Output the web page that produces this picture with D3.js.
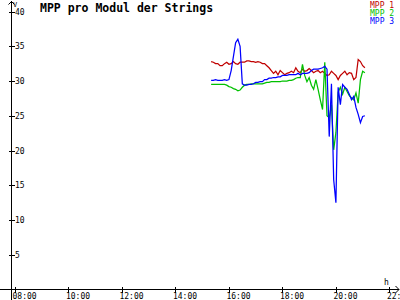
<!DOCTYPE html>
<html>
<head>
<meta charset="utf-8">
<script src="https://cdn.jsdelivr.net/npm/d3@7"></script>
<style>
  html, body { margin: 0; padding: 0; background: #fff; }
  svg { display: block; }
  text { font-family: "DejaVu Sans Mono", monospace; }
</style>
</head>
<body>
<svg id="chart" width="400" height="300"></svg>
<script>
// ---- data ----
const title = "MPP pro Modul der Strings";
const seriesNames = ["MPP 1", "MPP 2", "MPP 3"];
const seriesColors = ["#c00000", "#00c000", "#0000ff"];
const xTickLabels = ["08:00", "10:00", "12:00", "14:00", "16:00", "18:00", "20:00", "22:00"];
const yTickValues = [5, 10, 15, 20, 25, 30, 35, 40];
const times = [
  "15:20","15:25","15:30","15:35","15:40","15:45","15:50","15:55",
  "16:00","16:05","16:10","16:15","16:20","16:25","16:30","16:35","16:40","16:45","16:50","16:55",
  "17:00","17:05","17:10","17:15","17:20","17:25","17:30","17:35","17:40","17:45","17:50","17:55",
  "18:00","18:05","18:10","18:15","18:20","18:25","18:30","18:35","18:40","18:45","18:50","18:55",
  "19:00","19:05","19:10","19:15","19:20","19:25","19:30","19:35","19:40","19:45","19:50","19:55",
  "20:00","20:05","20:10","20:15","20:20","20:25","20:30","20:35","20:40","20:45","20:50","20:55",
  "21:00","21:05"
];
const mpp1 = [
  32.8,32.7,32.5,32.5,32.2,32.2,32.5,32.7,32.4,32.5,
  32.8,32.5,32.4,32.7,32.7,32.7,32.9,32.9,32.8,32.8,
  32.7,32.8,32.7,32.5,32.5,32.2,31.9,31.5,31.1,31.4,
  30.9,31.5,31.2,30.9,31.1,31.2,31.4,31.2,31.9,31.4,
  31.2,31.7,31.4,31.5,31.8,31.5,31.2,31.4,31.5,31.2,
  31.4,31.1,30.8,30.9,31.4,31.1,30.8,30.2,30.8,31.1,
  31.4,30.9,31.2,31.1,30.2,30.5,33.1,32.8,32.2,31.9
];
const mpp2 = [
  29.5,29.5,29.5,29.5,29.5,29.5,29.5,29.4,29.2,29.1,
  28.9,28.8,28.6,28.7,29.1,29.4,29.5,29.5,29.6,29.6,
  29.6,29.6,29.6,29.6,29.7,29.8,29.8,29.9,29.9,29.9,
  29.9,29.9,30.0,30.0,30.0,30.1,30.1,30.2,30.4,30.5,
  30.5,32.4,30.8,29.9,30.5,29.4,28.8,30.2,28.8,27.3,
  25.9,32.7,25.0,24.7,26.6,20.1,22.6,28.4,29.1,28.1,
  29.1,28.5,27.9,27.6,27.3,28.3,26.8,30.2,31.4,31.2
];
const mpp3 = [
  30.1,30.1,30.2,30.1,30.1,30.1,30.2,30.1,30.2,31.5,
  33.5,35.5,36.0,35.0,29.6,29.4,29.4,29.5,29.5,29.6,
  29.8,29.8,29.9,29.9,30.2,30.2,30.4,30.4,30.5,30.5,
  30.6,30.6,30.8,30.8,30.8,30.9,30.9,30.9,30.9,31.1,
  30.9,31.1,31.1,31.1,31.2,31.5,31.7,31.7,31.7,31.8,
  31.9,32.1,31.7,22.0,29.6,15.8,12.5,29.1,26.6,29.5,
  29.1,28.8,28.1,27.3,27.8,26.2,25.2,24.0,24.9,25.0
];
const series = [mpp1, mpp2, mpp3];

// ---- helpers ----
const toHours = s => { const [h, m] = s.split(":").map(Number); return h + m / 60; };

const svg = d3.select("#chart");
const x = d3.scaleLinear().domain([8, 22]).range([15, 389.4]);
const y = d3.scaleLinear().domain([0, 40]).range([289.5, 11.5]);
const axisX = 11.5, axisY = 289.5;

// data lines
const line = d3.line()
  .x((d, i) => x(toHours(times[i])))
  .y(d => y(d));
series.forEach((s, i) => {
  svg.append("path")
    .datum(s)
    .attr("fill", "none")
    .attr("stroke", seriesColors[i])
    .attr("stroke-width", 1.25)
    .attr("stroke-linejoin", "miter")
    .attr("d", line);
});

// y axis
const yAxis = svg.append("g")
  .attr("transform", `translate(${axisX},0)`)
  .call(d3.axisLeft(y).tickValues(yTickValues).tickSize(0).tickFormat(d3.format("d")));
yAxis.select(".domain").remove();
yAxis.selectAll(".tick line").attr("x1", -3).attr("x2", 3).attr("stroke", "#000")
  .attr("shape-rendering", "crispEdges");
yAxis.selectAll(".tick text")
  .attr("x", 3.5).attr("dy", "0.32em").attr("text-anchor", "start")
  .attr("font-size", 8).attr("fill", "#000")
  .style("font-family", "'DejaVu Sans Mono', monospace");

// x axis
const xAxis = svg.append("g")
  .attr("transform", `translate(0,${axisY})`)
  .call(d3.axisBottom(x).tickValues(d3.range(xTickLabels.length).map(i => 8 + 2 * i))
    .tickSize(0).tickFormat((d, i) => xTickLabels[i]));
xAxis.select(".domain").remove();
xAxis.selectAll(".tick line").attr("y1", -3).attr("y2", 3).attr("stroke", "#000")
  .attr("shape-rendering", "crispEdges");
xAxis.selectAll(".tick text")
  .attr("x", -3).attr("y", 9).attr("dy", null).attr("text-anchor", "start")
  .attr("font-size", 8).attr("fill", "#000")
  .style("font-family", "'DejaVu Sans Mono', monospace");

// axis lines and arrows
svg.append("line").attr("x1", axisX).attr("x2", axisX).attr("y1", 1).attr("y2", 300)
  .attr("stroke", "#000").attr("shape-rendering", "crispEdges");
svg.append("line").attr("x1", 0).attr("x2", 399).attr("y1", axisY).attr("y2", axisY)
  .attr("stroke", "#000").attr("shape-rendering", "crispEdges");
svg.append("path").attr("d", `M${axisX - 3},4.5 L${axisX},1.5 L${axisX + 3},4.5`)
  .attr("fill", "none").attr("stroke", "#000");
svg.append("path").attr("d", `M395.5,${axisY - 3.5} L399,${axisY} L395.5,${axisY + 3.5}`)
  .attr("fill", "none").attr("stroke", "#000");

// unit labels
svg.append("text").attr("x", 13).attr("y", 7).attr("font-size", 7).text("V");
svg.append("text").attr("x", 384).attr("y", 285).attr("font-size", 8).text("h");

// title
svg.append("text").attr("x", 40).attr("y", 11.5)
  .attr("font-size", 11.5).attr("font-weight", "bold").attr("fill", "#000").text(title);

// legend
seriesNames.forEach((n, i) => {
  svg.append("text").attr("x", 370).attr("y", 7.5 + 8 * i)
    .attr("font-size", 8).attr("fill", seriesColors[i]).text(n);
});
</script>
</body>
</html>
